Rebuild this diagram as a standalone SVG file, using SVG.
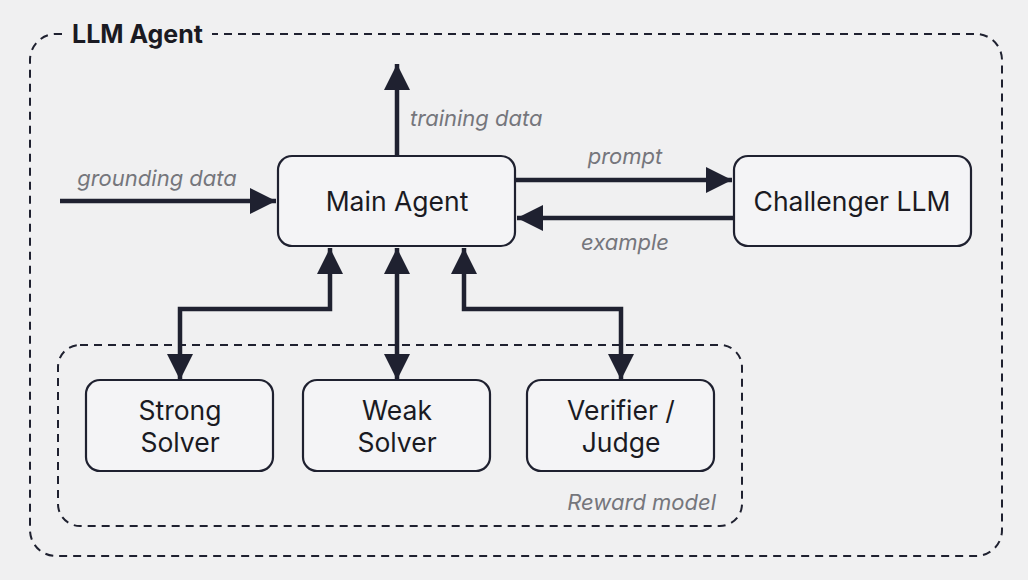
<svg xmlns="http://www.w3.org/2000/svg" width="1028" height="580" viewBox="0 0 1028 580">
<defs>
<marker id="ah" viewBox="0 0 26 26" refX="26" refY="13" markerWidth="26" markerHeight="26" markerUnits="userSpaceOnUse" orient="auto-start-reverse">
<path d="M0,0 L26,13 L0,26 Z" fill="#1f2130"/>
</marker>
<style>
.bg{fill:#f0f0f1}
.node{fill:#f4f4f6;stroke:#1f2130;stroke-width:2.2}
.dash{fill:none;stroke:#1f2130;stroke-width:2;stroke-dasharray:8 6}
.conn{fill:none;stroke:#1f2130;stroke-width:4.5}
.t{font-family:Inter,"Liberation Sans",sans-serif;font-size:26.5px;fill:#1a1a22;text-anchor:middle}
.lbl{font-family:Inter,"Liberation Sans",sans-serif;font-size:22px;font-style:italic;fill:#75767c}
.title{font-family:Inter,"Liberation Sans",sans-serif;font-size:25px;font-weight:bold;fill:#1a1a22}
</style>
</defs>
<rect class="bg" x="0" y="0" width="1028" height="580"/>
<g id="llm-agent">
<rect class="dash" x="30" y="34" width="972" height="522" rx="26"/>
<rect class="bg" x="62" y="18" width="150" height="30"/>
<text class="title" x="72" y="43">LLM Agent</text>
</g>
<g id="reward-model">
<rect class="dash" x="58" y="345" width="684" height="181" rx="22"/>
<text class="lbl" x="716" y="510" text-anchor="end">Reward model</text>
</g>
<g id="main-agent">
<rect class="node" x="278" y="156" width="237" height="90" rx="14"/>
<text class="t" x="397" y="211">Main Agent</text>
</g>
<g id="challenger">
<rect class="node" x="734" y="156" width="237" height="90" rx="14"/>
<text class="t" x="852" y="211">Challenger LLM</text>
</g>
<g id="strong-solver">
<rect class="node" x="86" y="380" width="187" height="91" rx="14"/>
<text class="t" x="180" y="420">Strong</text>
<text class="t" x="180" y="452">Solver</text>
</g>
<g id="weak-solver">
<rect class="node" x="303" y="380" width="187" height="91" rx="14"/>
<text class="t" x="397" y="420">Weak</text>
<text class="t" x="397" y="452">Solver</text>
</g>
<g id="verifier">
<rect class="node" x="527" y="380" width="187" height="91" rx="14"/>
<text class="t" x="621" y="420">Verifier /</text>
<text class="t" x="621" y="452">Judge</text>
</g>
<g id="connectors">
<path class="conn" d="M60,201 L276,201" marker-end="url(#ah)"/>
<text class="lbl" x="157" y="186" text-anchor="middle">grounding data</text>
<path class="conn" d="M397,155 L397,64" marker-end="url(#ah)"/>
<text class="lbl" x="410" y="126">training data</text>
<path class="conn" d="M516,180 L732,180" marker-end="url(#ah)"/>
<text class="lbl" x="625" y="164" text-anchor="middle">prompt</text>
<path class="conn" d="M734,218 L517,218" marker-end="url(#ah)"/>
<text class="lbl" x="625" y="250" text-anchor="middle">example</text>
<path class="conn" d="M330,248 L330,309 L180,309 L180,380" marker-start="url(#ah)" marker-end="url(#ah)"/>
<path class="conn" d="M397,248 L397,380" marker-start="url(#ah)" marker-end="url(#ah)"/>
<path class="conn" d="M464,248 L464,309 L621,309 L621,380" marker-start="url(#ah)" marker-end="url(#ah)"/>
</g>
</svg>
